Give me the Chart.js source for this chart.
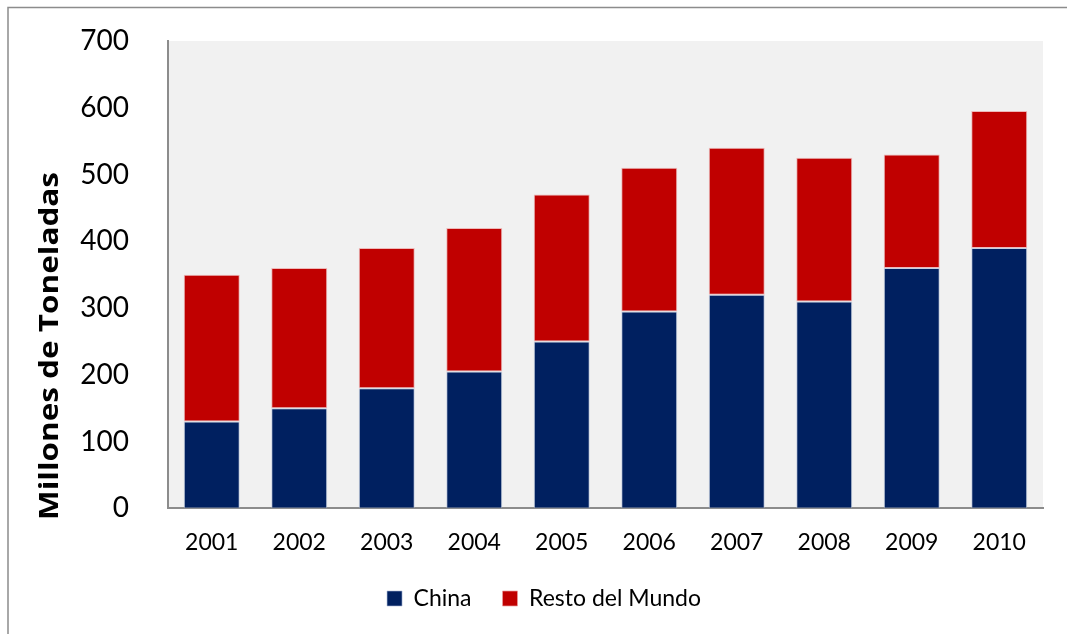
<!DOCTYPE html>
<html>
<head>
<meta charset="utf-8">
<title>Producción de acero</title>
<script src="https://cdn.jsdelivr.net/npm/chart.js@4.4.0/dist/chart.umd.min.js"></script>
<style>
  html, body { margin: 0; padding: 0; background: #fff; }
  #wrap { width: 1067px; height: 634px; position: relative; }
</style>
</head>
<body>
<div id="wrap"><canvas id="chart"></canvas></div>
<script>
// Data
var years = ['2001', '2002', '2003', '2004', '2005', '2006', '2007', '2008', '2009', '2010'];
var chinaValues = [130, 150, 180, 205, 250, 295, 320, 310, 360, 390];
var restValues  = [220, 210, 210, 215, 220, 215, 220, 215, 170, 205];
var yTicks = [0, 100, 200, 300, 400, 500, 600, 700];
var yTitle = 'Millones de Toneladas';

var fontFamily = 'Lato, "Noto Sans", sans-serif';

// Grey plot background + outer frame
var frameAndBackground = {
  id: 'frameAndBackground',
  beforeDraw: function(chart) {
    var ctx = chart.ctx;
    var area = chart.chartArea;
    ctx.save();
    ctx.fillStyle = '#ffffff';
    ctx.fillRect(0, 0, chart.width, chart.height);
    ctx.fillStyle = '#f1f1f1';
    ctx.fillRect(area.left, area.top, area.right - area.left, area.bottom - area.top);
    ctx.strokeStyle = '#8c8c8c';
    ctx.lineWidth = 1.5;
    ctx.beginPath();
    ctx.moveTo(8, chart.height);
    ctx.lineTo(8, 7.5);
    ctx.lineTo(chart.width, 7.5);
    ctx.stroke();
    ctx.restore();
  }
};

// Rotated y axis title, stretched to the title length
var axisTitle = {
  id: 'axisTitle',
  afterDraw: function(chart) {
    var ctx = chart.ctx;
    ctx.save();
    ctx.font = 'bold 27px "Open Sans", sans-serif';
    var w = ctx.measureText(yTitle).width;
    ctx.translate(58, 346);
    ctx.rotate(-Math.PI / 2);
    ctx.scale(348 / w, 1);
    ctx.fillStyle = '#000';
    ctx.textAlign = 'center';
    ctx.textBaseline = 'alphabetic';
    ctx.fillText(yTitle, 0, 0);
    ctx.restore();
  }
};

var ctx = document.getElementById('chart');

var chart = new Chart(ctx, {
  type: 'bar',
  data: {
    labels: years,
    datasets: [
      {
        label: 'China',
        data: chinaValues,
        backgroundColor: '#002060',
        borderColor: 'rgba(170,185,215,0.6)',
        borderWidth: 1,
        borderSkipped: false,
        barPercentage: 0.64,
        categoryPercentage: 1
      },
      {
        label: 'Resto del Mundo',
        data: restValues,
        backgroundColor: '#c00000',
        borderColor: 'rgba(235,160,160,0.7)',
        borderWidth: 1,
        borderSkipped: false,
        barPercentage: 0.64,
        categoryPercentage: 1
      }
    ]
  },
  options: {
    responsive: true,
    maintainAspectRatio: false,
    animation: false,
    layout: {
      padding: { left: 45, right: 24, top: 41, bottom: 14 }
    },
    plugins: {
      tooltip: { enabled: false },
      legend: {
        position: 'bottom',
        labels: {
          boxWidth: 15,
          boxHeight: 15,
          padding: 31,
          color: '#000',
          font: { family: fontFamily, size: 23 }
        }
      }
    },
    scales: {
      x: {
        stacked: true,
        grid: { display: false },
        border: { display: true, color: '#8c8c8c', width: 2 },
        afterFit: function(scale) { scale.height = scale.height - 13; },
        ticks: {
          color: '#000',
          padding: 12.5,
          font: { family: fontFamily, size: 23 }
        }
      },
      y: {
        stacked: true,
        min: yTicks[0],
        max: yTicks[yTicks.length - 1],
        grid: { display: false },
        border: { display: true, color: '#8c8c8c', width: 2 },
        afterFit: function(scale) {
          scale.width = 123;
          scale.paddingTop = 0;
          scale.paddingBottom = 0;
        },
        afterBuildTicks: function(scale) {
          scale.ticks = yTicks.map(function(v) { return { value: v }; });
        },
        ticks: {
          color: '#000',
          padding: 31,
          font: { family: fontFamily, size: 28 }
        }
      }
    }
  },
  plugins: [frameAndBackground, axisTitle]
});
</script>
</body>
</html>
